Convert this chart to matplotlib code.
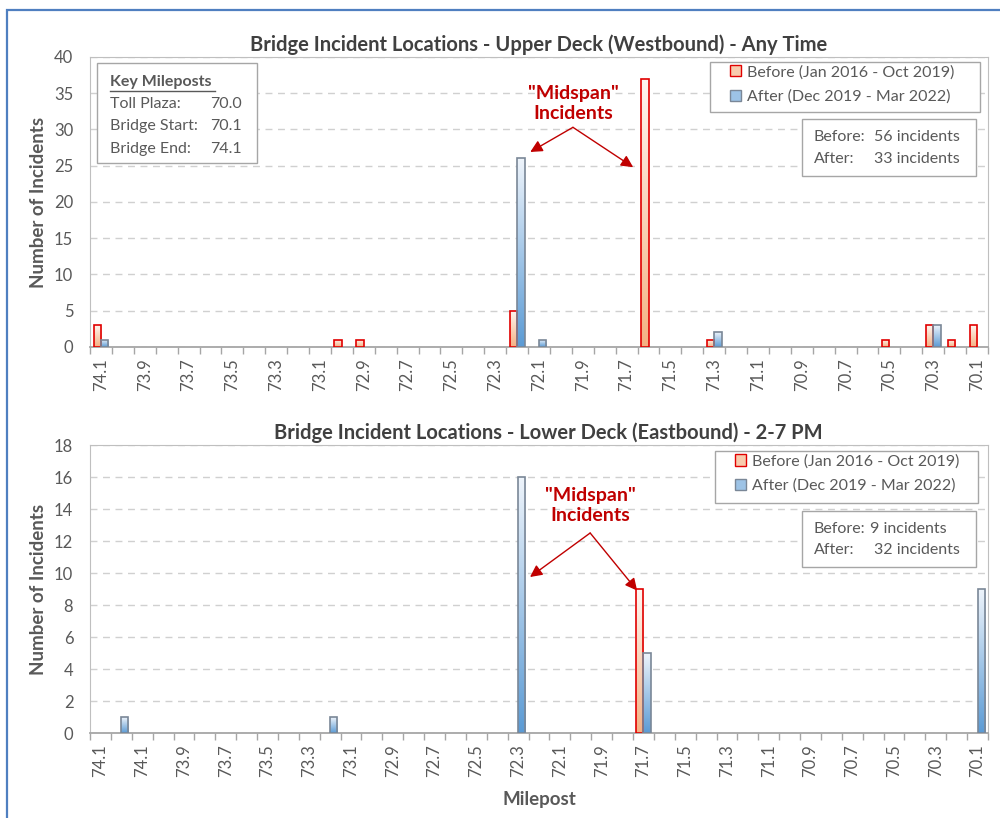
import numpy as np
import matplotlib
matplotlib.use("Agg")
import matplotlib.pyplot as plt
from matplotlib.patches import Patch, Rectangle
from matplotlib.colors import to_rgb

plt.rcParams['font.family'] = ['Lato', 'DejaVu Sans']

# ---- data -------------------------------------------------------------
# upper deck: 41 mileposts, 74.1 -> 70.1
upper_ticks = ["74.1", "73.9", "73.7", "73.5", "73.3", "73.1", "72.9", "72.7",
               "72.5", "72.3", "72.1", "71.9", "71.7", "71.5", "71.3", "71.1",
               "70.9", "70.7", "70.5", "70.3", "70.1"]
upper_before = [3, 0, 0, 0, 0, 0, 0, 0, 0, 0, 0, 1, 1, 0, 0, 0, 0, 0, 0, 5, 0,
                0, 0, 0, 0, 37, 0, 0, 1, 0, 0, 0, 0, 0, 0, 0, 1, 0, 3, 1, 3]
upper_after = [1, 0, 0, 0, 0, 0, 0, 0, 0, 0, 0, 0, 0, 0, 0, 0, 0, 0, 0, 26, 1,
               0, 0, 0, 0, 0, 0, 0, 2, 0, 0, 0, 0, 0, 0, 0, 0, 0, 3, 0, 0]

# lower deck: 43 mileposts
lower_ticks = ["74.1", "74.1", "73.9", "73.7", "73.5", "73.3", "73.1", "72.9",
               "72.7", "72.5", "72.3", "72.1", "71.9", "71.7", "71.5", "71.3",
               "71.1", "70.9", "70.7", "70.5", "70.3", "70.1"]
lower_before = [0, 0, 0, 0, 0, 0, 0, 0, 0, 0, 0, 0, 0, 0, 0, 0, 0, 0, 0, 0, 0,
                0, 0, 0, 0, 0, 9, 0, 0, 0, 0, 0, 0, 0, 0, 0, 0, 0, 0, 0, 0, 0, 0]
lower_after = [0, 1, 0, 0, 0, 0, 0, 0, 0, 0, 0, 1, 0, 0, 0, 0, 0, 0, 0, 0, 16,
               0, 0, 0, 0, 0, 5, 0, 0, 0, 0, 0, 0, 0, 0, 0, 0, 0, 0, 0, 0, 0, 9]

label_before = "Before (Jan 2016 - Oct 2019)"
label_after = "After (Dec 2019 - Mar 2022)"

GRAY = '#595959'
RED = '#C00000'
BEFORE_TOP, BEFORE_BOT, BEFORE_EDGE = '#FFF6F1', '#F4B183', '#E00000'
AFTER_TOP, AFTER_BOT, AFTER_EDGE = '#EEF4FB', '#5B9BD5', '#7A8797'
FS = 11.5


def gradient_bars(ax, x, heights, width, top, bot, edge):
    bars = ax.bar(x, heights, width, facecolor='none', edgecolor=edge,
                  linewidth=1.2, zorder=4)
    c_top, c_bot = np.array(to_rgb(top)), np.array(to_rgb(bot))
    t = np.linspace(0, 1, 128)[:, None, None]
    img = c_bot * (1 - t) + c_top * t
    for r in bars:
        h = r.get_height()
        if h <= 0:
            r.set_visible(False)
            continue
        x0 = r.get_x()
        im = ax.imshow(img, extent=[x0, x0 + r.get_width(), 0, h],
                       origin='lower', aspect='auto', zorder=3)
        im.set_clip_path(r)
    return bars


def style_axes(ax, n, ticks, ymax, ystep, title, tx):
    w = 0.34
    x = np.arange(n)
    ax.set_xlim(-0.5, n - 0.5)
    ax.set_ylim(0, ymax)
    ax.set_yticks(np.arange(0, ymax + 1, ystep))
    ax.set_xticks(np.arange(0, n, 2), ticks)
    ax.set_xticks(np.arange(n + 1) - 0.5, minor=True)
    ax.tick_params(axis='x', which='major', length=0, pad=8, rotation=90,
                   labelsize=12, labelcolor=GRAY)
    ax.tick_params(axis='x', which='minor', length=5, color='#A6A6A6', width=1)
    ax.tick_params(axis='y', length=0, pad=12, labelsize=12, labelcolor=GRAY)
    ax.grid(axis='y', color='#D0D0D0', linestyle=(0, (5, 4)), linewidth=1)
    ax.set_axisbelow(True)
    for s in ['top', 'right', 'left']:
        ax.spines[s].set_color('#BFBFBF')
        ax.spines[s].set_linewidth(0.8)
    ax.spines['bottom'].set_color('#A6A6A6')
    ax.spines['bottom'].set_linewidth(1.3)
    ax.set_title(title, fontsize=14.5, fontweight='bold', color='#404040',
                 pad=4, x=tx)
    ax.set_ylabel("Number of Incidents", fontsize=13.5, fontweight='bold',
                  color=GRAY, labelpad=5)
    return x, w


fig = plt.figure(figsize=(10, 8.18), dpi=100)

# outer blue frame (left and top edges visible)
fig.add_artist(Rectangle((0.007, -0.05), 1.2, 1.05 - 10 / 818, transform=fig.transFigure,
                         facecolor='none', edgecolor='#4F7FC0', linewidth=1.6))

ax1 = fig.add_axes([0.09, 1 - 347 / 818, 0.898, 290 / 818])
ax2 = fig.add_axes([0.09, 1 - 733 / 818, 0.898, 288 / 818])

# ---- upper deck ---------------------------------------------------------
n1 = len(upper_before)
x, w = style_axes(ax1, n1, upper_ticks, 40, 5,
                  "Bridge Incident Locations - Upper Deck (Westbound) - Any Time", 0.5)
gradient_bars(ax1, x - w / 2, upper_before, w, BEFORE_TOP, BEFORE_BOT, BEFORE_EDGE)
gradient_bars(ax1, x + w / 2, upper_after, w, AFTER_TOP, AFTER_BOT, AFTER_EDGE)

# ---- lower deck ---------------------------------------------------------
n2 = len(lower_before)
x2, w2 = style_axes(ax2, n2, lower_ticks, 18, 2,
                    "Bridge Incident Locations - Lower Deck (Eastbound) - 2-7 PM", 0.51)
gradient_bars(ax2, x2 - w2 / 2, lower_before, w2, BEFORE_TOP, BEFORE_BOT, BEFORE_EDGE)
gradient_bars(ax2, x2 + w2 / 2, lower_after, w2, AFTER_TOP, AFTER_BOT, AFTER_EDGE)
ax2.set_xlabel("Milepost", fontsize=13.5, fontweight='bold', color=GRAY, labelpad=10)

# ---- legends and text boxes ------------------------------------------------
handles = [Patch(facecolor='#F8CBAD', edgecolor=BEFORE_EDGE, label=label_before),
           Patch(facecolor='#9DC3E6', edgecolor=AFTER_EDGE, label=label_after)]
# (axes, legend frame [x, y, w, h] in axes coords, legend anchor)
legend_spots = [(ax1, (0.6904, 0.8103, 0.3007, 0.1724), (0.7127, 0.972)),
                (ax2, (0.6960, 0.7986, 0.2929, 0.1806), (0.7183, 0.968))]
for ax, frame, anchor in legend_spots:
    ax.add_patch(Rectangle(frame[:2], frame[2], frame[3], transform=ax.transAxes,
                           facecolor='white', edgecolor='#A6A6A6', lw=1, zorder=6))
    leg = ax.legend(handles=handles, loc='upper left', bbox_to_anchor=anchor,
                    fontsize=FS, frameon=False, handlelength=0.7,
                    handleheight=0.7, handletextpad=0.35, labelspacing=0.62,
                    borderpad=0, borderaxespad=0)
    leg.set_zorder(7)
    for t in leg.get_texts():
        t.set_color(GRAY)

# stats boxes
for ax, b, a, y0, bx in [(ax1, "56", "33", 0.588, 0.873), (ax2, "9", "32", 0.575, 0.869)]:
    ax.add_patch(Rectangle((0.7925, y0), 0.1945, 0.197, transform=ax.transAxes,
                           facecolor='white', edgecolor='#A6A6A6', lw=1, zorder=6))
    ax.text(0.806, y0 + 0.135, "Before:", transform=ax.transAxes, fontsize=FS,
            color=GRAY, va='center', zorder=7)
    ax.text(0.806, y0 + 0.06, "After:", transform=ax.transAxes, fontsize=FS,
            color=GRAY, va='center', zorder=7)
    ax.text(bx, y0 + 0.135, b + " incidents",
            transform=ax.transAxes, fontsize=FS, color=GRAY, va='center', zorder=7)
    ax.text(0.873, y0 + 0.06, a + " incidents", transform=ax.transAxes,
            fontsize=FS, color=GRAY, va='center', zorder=7)

# key mileposts box
ax1.add_patch(Rectangle((7 / 898, 1 - 106 / 290), 160 / 898, 100 / 290,
                        transform=ax1.transAxes, facecolor='white',
                        edgecolor='#A6A6A6', lw=1, zorder=6))
ax1.text(20 / 898, 1 - 25 / 290, "Key Mileposts", transform=ax1.transAxes,
         fontsize=FS, fontweight='bold', color=GRAY, va='center', zorder=7)
ax1.plot([20 / 898, 125 / 898], [1 - 34 / 290] * 2, transform=ax1.transAxes,
         color=GRAY, lw=1, zorder=7)
rows = [("Toll Plaza:", "70.0"), ("Bridge Start:", "70.1"), ("Bridge End:", "74.1")]
for i, (k, v) in enumerate(rows):
    yy = 1 - (47 + 22.5 * i) / 290
    ax1.text(20 / 898, yy, k, transform=ax1.transAxes, fontsize=FS,
             color=GRAY, va='center', zorder=7)
    ax1.text(152 / 898, yy, v, transform=ax1.transAxes, fontsize=FS,
             color=GRAY, va='center', ha='right', zorder=7)

# midspan annotations
arrow = dict(arrowstyle='-|>', color=RED, lw=1, mutation_scale=18,
             shrinkA=0, shrinkB=0)
ax1.text(21.55, 33.6, '"Midspan"\nIncidents', color=RED, fontsize=14,
         fontweight='bold', ha='center', va='center', linespacing=1.2)
ax1.annotate('', xy=(19.6, 26.9), xytext=(21.55, 30.3), arrowprops=arrow)
ax1.annotate('', xy=(24.3, 24.8), xytext=(21.55, 30.3), arrowprops=arrow)

ax2.text(23.45, 14.2, '"Midspan"\nIncidents', color=RED, fontsize=14,
         fontweight='bold', ha='center', va='center', linespacing=1.2)
ax2.annotate('', xy=(20.57, 9.75), xytext=(23.45, 12.5), arrowprops=arrow)
ax2.annotate('', xy=(25.7, 8.9), xytext=(23.45, 12.5), arrowprops=arrow)

fig.savefig("out.png", dpi=100)
